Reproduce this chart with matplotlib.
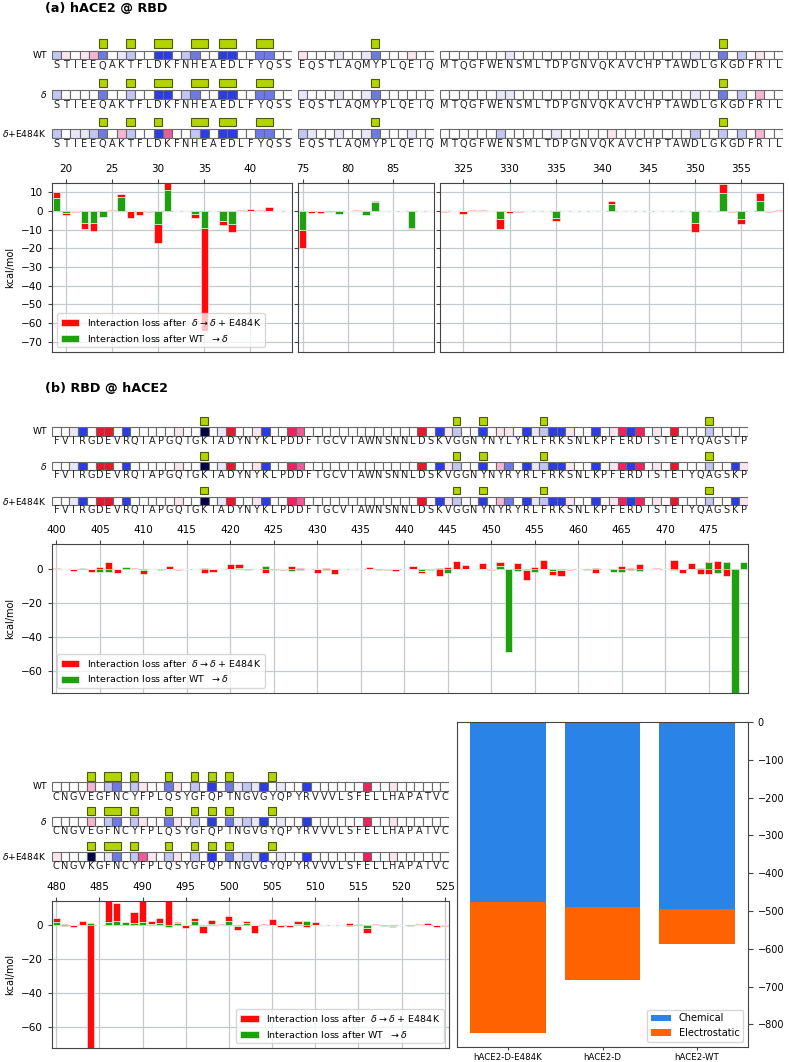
import matplotlib
matplotlib.use("Agg")
import matplotlib.pyplot as plt
import matplotlib.transforms as mtransforms
from matplotlib.colors import LinearSegmentedColormap, Normalize
import numpy as np

# ---------------- data ----------------
row_names = ["WT", r"$\delta$", r"$\delta$+E484K"]

# (a) hACE2 @ RBD : three segments of hACE2
a1_start = 19
a1_seq = ["STIEEQAKTFLDKFNHEAEDLFYQSS"] * 3
a1_codes = ["bo.opc.ab..dd.bc..dd..cc..",
            "b....c..b..dd.bc..dd..cc..",
            "b.aabc.pb..dq..bd.dd..cc.."]
a1_marks = [[24, 27, 30, 31, 34, 35, 37, 38, 41, 42],
            [24, 27, 30, 31, 34, 35, 37, 38, 41, 42],
            [24, 27, 30, 34, 35, 37, 38, 41, 42]]
a1_green = [7, -1, 0, -6.5, -6.5, -3, 0, 7.5, 0, 0, 0, -7, 11, 0, 0, -1.5, -9, 0, -5.5, -7, 0, 0, 0, 0, 0, 0]
a1_red = [3, -1, -0.5, -3, -4, 0, 0.3, 1.5, -4, -2, -0.7, -10, 4, -0.2, 0, -2.5, -55, 0, -2, -4.5, 0.3, 1, 0.5, 2, 0.2, 0]

a2_start = 75
a2_seq = ["EQSTLAQMYPLQEIQ"] * 3
a2_codes = ["o...a..ac...o..",
            "a...a..ac......",
            "ba..a..ac...a.."]
a2_marks = [[83], [83], [83]]
a2_green = [-10, 0, 0, -0.5, -1.5, 0, 0, -2, 5, 0, 0, 0, -9, 0, 0]
a2_red = [-10, -1, -1, 0, 0, 0, 0.3, 0, 0.5, 0, 0.2, 0, -0.5, 0.2, 0]

a3_start = 323
a3_seq = ["MTQGFWENSMLTDPGNVQKAVCHPTAWDLGKGDFRIL"] * 3
a3_codes = [".......a" + "." * 19 + "a..c.b.o..",
            "......aa" + "." * 19 + "a..c.b.p..",
            "......b.....a.....o........b..b.b.p.."]
a3_marks = [[353], [353], [353]]
a3_green = [0, 0, 0, 0, 0, 0, -4.5, 0, 0, 0, 0, 0, -4, 0, 0, 0, 0, 0, 3.5, 0,
            0, 0, 0, 0, 0, 0, 0, -6.5, 0, 0, 9.5, 0, -4.5, 0, 5.5, 0, 0]
a3_red = [-0.3, 0, -1.5, 0.5, 0.5, 0, -5, -1, -0.5, 0, 0, 0, -1.5, 0, 0, 0, 0, 0.1, 2, 0,
          0, 0, 0, 0.1, 0.1, 0, 0, -5, 0, 0.2, 5, -0.5, -2.5, 0, 4, -0.3, 0.3]

# (b) RBD @ hACE2 : residues 400-479
b_start = 400
b_seq = ["FVIRGDEVRQIAPGQTGKIADYNYKLPDDFTGCVIAWNSNNLDSKVGGNYNYLYRLFRKSNLKPFERDISTEIYQAGSTP",
         "FVIRGDEVRQIAPGQTGKIADYNYKLPDDFTGCVIAWNSNNLDSKVGGNYNYRYRLFRKSNLKPFERDISTEIYQAGSKP",
         "FVIRGDEVRQIAPGQTGKIADYNYKLPDDFTGCVIAWNSNNLDSKVGGNYNYRYRLFRKSNLKPFERDISTEIYQAGSKP"]
b_codes = ["..ad.rr.d." "....o..e.a" "r..od..sq." ".........." "..r.dob..d" ".oo.dabddo" "..d.osds.o" ".r...b....",
           "..ad.rr.d." "....o..e.a" "r..od..sq." ".........." "..r.dob..d" ".pc.dabddo" "..d.osds.o" ".r...b..do",
           "..ad.rr.d." "....o..e.a" "r..od..sq." ".........." "..r.dob..d" ".pc.dabddo" "..d.osds.o" ".r...b..do"]
b_marks = [[417, 446, 449, 456, 475]] * 3
b_green = [0.5, 0, 0, 0.8, 0, -1.5, -1.5, 0, 1.5, 0,
           -0.5, 0, -0.3, 0, 0, 0, 0.3, 1, 0, 0,
           0, 1, -0.3, 0, 2, -0.3, 0, -1, -0.5, 0,
           0.5, -0.5, 0, 0, 0, 0, 0.3, -0.3, 0, 0,
           0, 0, -1, -0.2, 1, -2, 0.5, 0.5, 0, 0.5,
           0, 2, -49, -1, -0.5, -1.5, 0.5, -1, -0.5, 0,
           0, -0.3, 1, 0.5, -1.5, -1.5, -0.5, -1, 0.5, 0,
           0.5, -0.5, 0, 0.5, 1, 4.5, -2, 4.5, -80, 4.5]
b_red = [0.3, 0, -1.2, 0, -1.5, 3, 6, -2, 0, 1,
         -2.5, 0.5, 0, 2, -0.3, 0, 0, -3, -1.5, 0,
         3, 2, 0, 0.5, -4, 0, -0.5, 3, 1.5, 0,
         -2.5, 1.5, -2.5, 0.5, 0.5, 0.5, 1, 0, -0.5, -0.8,
         0, 2, -1, 0, -5, 3.5, 4.5, 2, 0, 3.5,
         -0.5, 2.5, 0, 5, -6, 3, 5, -2.5, -3.5, -0.3,
         0, 0, -3, 0, 0, 3.5, 1.5, 4, 0, 1,
         0, 6, -2, 3, -4, -7, 7, -8.5, 0, 0]

# (b, continued) residues 480-525
c_start = 480
c_seq = ["CNGVEGFNCYFPLQSYGFQPTNGVGYQPYRVVVLSFELLHAPATVC",
         "CNGVEGFNCYFPLQSYGFQPTNGVGYQPYRVVVLSFELLHAPATVC",
         "CNGVKGFNCYFPLQSYGFQPTNGVGYQPYRVVVLSFELLHAPATVC"]
c_codes = ["....p.bc.b" "o..co.b.d." "cabad.a..d" "......s..o" "......",
           "....p.bc.b" "o..co.b.d." "cabad.a..d" "......s..o" "......",
           "o...e.ac.b" "qo.bo.b.d." "cabad.a..d" "......s..o" "......"]
c_marks = [[484, 486, 487, 489, 493, 496, 498, 500, 505]] * 3
c_green = [1.5, 0.3, 0, 0, 1, 0, 1.5, 2.5, 1.5, 1,
           1.5, 0.5, 1, -1.5, 1, 0, 2, -0.5, 0.5, 0,
           2, -1, 1, -0.3, 0, 0, -0.3, 0, 0.5, 2.5,
           0, 0, 0, 0, -1, 0.2, -2, 0, -0.5, -1,
           -0.3, -1, 0, 0, 0, -0.2]
c_red = [2.5, -1, -1.5, 2, -80, 0, 15, 10.5, 0, 6.5,
         15, 1.5, 3, 18, 0.5, -2, 2, -4.5, 2.5, 0.5,
         3, -2, 1, -4.5, 0.2, 3.5, -1, -1.5, 2, -4,
         1.5, 0, 0, -0.3, 2, 0.3, -3, 0.5, 0, -0.5,
         0, 0, 0.5, 1, -1.5, -0.8]

# total interaction energies
complexes = ["hACE2-D-E484K", "hACE2-D", "hACE2-WT"]
chemical = [-475, -489, -496]
electrostatic = [-348, -195, -92]

# ---------------- styling ----------------
code_val = {'e': -1.0, 'd': -0.8, 'c': -0.55, 'b': -0.3, 'a': -0.12, '.': 0.0,
            'o': 0.12, 'p': 0.35, 'q': 0.6, 's': 0.8, 'r': 1.0}
cmap = LinearSegmentedColormap.from_list("res", [
    (0.0, "#00004a"), (0.1, "#2b3de8"), (0.225, "#6f7ae8"), (0.35, "#c4c6f2"),
    (0.44, "#e8e8f8"), (0.5, "#ffffff"), (0.56, "#fbe6ef"), (0.675, "#f6b6d2"),
    (0.8, "#f05a98"), (0.9, "#ee2260"), (1.0, "#e8182c")])
norm = Normalize(-1, 1)

RED = "#ff0a0a"
GREEN = "#1ea010"
LIME = "#b4d400"
GRID = "#c4cacd"

W, H = 789, 1062
fig = plt.figure(figsize=(W / 100, H / 100), dpi=100)


def px_axes(x0, y0, x1, y1):
    return fig.add_axes([x0 / W, 1 - y1 / H, (x1 - x0) / W, (y1 - y0) / H])


def runs(marks):
    out = []
    for m in sorted(marks):
        if out and m == out[-1][1] + 1:
            out[-1][1] = m
        else:
            out.append([m, m])
    return out


def draw_seq(box, start, seqs, codes, marks, row0, gap, cell_h, letter_dy, mark_dy, labels=True):
    x0, y0, x1, y1 = box
    ax = px_axes(x0, y0, x1, y1)
    n = len(seqs[0])
    res = np.arange(start, start + n)
    for i in range(3):
        yc = row0 + i * gap
        vals = [code_val[c] for c in codes[i]]
        ax.bar(res, cell_h, bottom=yc - cell_h / 2, width=1, color=cmap(norm(vals)),
               edgecolor="#6a6a6a", linewidth=0.8)
        for r, ch in zip(res, seqs[i]):
            ax.text(r, yc + letter_dy, ch, ha="center", va="center", fontsize=7, color="#222222")
        for a, b in runs(marks[i]):
            ax.bar((a + b) / 2, cell_h - 0.5, bottom=yc + mark_dy - (cell_h - 0.5) / 2,
                   width=b - a + 0.9, color=LIME, edgecolor="#4a5a10", linewidth=0.8)
        if labels:
            tr = mtransforms.blended_transform_factory(ax.transAxes, ax.transData)
            ax.text(-5 / (x1 - x0), yc, row_names[i], transform=tr, ha="right", va="center",
                    fontsize=6.6)
    ax.set_xlim(start - 0.5, start + n - 0.5)
    ax.set_ylim(y1 - y0, 0)
    ax.axis("off")


def draw_bars(box, start, green, red, ylim, yticks, xticks, show_y=True, legend=None):
    ax = px_axes(*box)
    res = np.arange(start, start + len(green))
    ax.bar(res, red, bottom=green, width=0.82, color=RED, edgecolor="white", linewidth=0.4,
           zorder=2, label=r"Interaction loss after  $\delta\rightarrow\delta$ + E484K")
    ax.bar(res, green, width=0.82, color=GREEN, edgecolor="white", linewidth=0.4,
           zorder=3, label=r"Interaction loss after WT  $\rightarrow\delta$")
    ax.set_xlim(start - 0.5, start + len(green) - 0.5)
    ax.set_ylim(*ylim)
    ax.set_yticks(yticks)
    ax.set_xticks(xticks)
    ax.xaxis.tick_top()
    ax.tick_params(labelsize=7.5, length=3, color="#444444")
    ax.grid(True, color=GRID, linewidth=0.9)
    ax.set_axisbelow(True)
    for s in ax.spines.values():
        s.set_color("#444444")
    if show_y:
        ax.set_ylabel("kcal/mol", fontsize=7)
    else:
        ax.tick_params(labelleft=False)
    if legend:
        ax.legend(loc=legend, fontsize=6.8, framealpha=0.75, handlelength=2.0)
    return ax


# ---------------- panel (a) ----------------
fig.text(45 / W, 1 - 8 / H, "(a) hACE2 @ RBD", fontsize=9.2, fontweight="bold", va="center")
seq_args = dict(row0=20, gap=39.2, cell_h=8.7, letter_dy=10.5, mark_dy=-11.5)
draw_seq((52, 35, 292, 150), a1_start, a1_seq, a1_codes, a1_marks, **seq_args)
draw_seq((298, 35, 434, 150), a2_start, a2_seq, a2_codes, a2_marks, labels=False, **seq_args)
draw_seq((440, 35, 783, 150), a3_start, a3_seq, a3_codes, a3_marks, labels=False, **seq_args)

a_yl = (-75.5, 15)
a_yt = list(range(-70, 11, 10))
draw_bars((52, 183, 292, 352), a1_start, a1_green, a1_red, a_yl, a_yt, [20, 25, 30, 35, 40],
          legend="lower left")
draw_bars((298, 183, 434, 352), a2_start, a2_green, a2_red, a_yl, a_yt, [75, 80, 85], show_y=False)
draw_bars((440, 183, 783, 352), a3_start, a3_green, a3_red, a_yl, a_yt,
          list(range(325, 356, 5)), show_y=False)

# ---------------- panel (b) ----------------
fig.text(45 / W, 1 - 388 / H, "(b) RBD @ hACE2", fontsize=9.2, fontweight="bold", va="center")
draw_seq((52, 410, 748, 515), b_start, b_seq, b_codes, b_marks,
         row0=21.5, gap=34.75, cell_h=8.4, letter_dy=9.2, mark_dy=-10.5)
draw_bars((52, 544, 748, 693), b_start, b_green, b_red, (-73, 15), [-60, -40, -20, 0],
          list(range(400, 476, 5)), legend="lower left")

draw_seq((52, 765, 449, 870), c_start, c_seq, c_codes, c_marks,
         row0=21.7, gap=34.8, cell_h=8.7, letter_dy=10, mark_dy=-10.2)
draw_bars((52, 901, 449, 1048), c_start, c_green, c_red, (-72.5, 14), [-60, -40, -20, 0],
          list(range(480, 526, 5)), legend="lower right")

# total energies
ax = px_axes(457, 722, 748, 1047)
x = np.arange(len(complexes))
ax.bar(x, chemical, width=0.8, color="#2a84e8", label="Chemical")
ax.bar(x, electrostatic, bottom=chemical, width=0.8, color="#ff6200", label="Electrostatic")
ax.set_ylim(-860, 0)
ax.set_xticks(x, complexes)
ax.yaxis.tick_right()
ax.yaxis.set_label_position("right")
ax.set_ylabel("kcal/mol", fontsize=7)
ax.tick_params(labelsize=7, color="#444444")
ax.tick_params(axis="x", labelsize=6.2, length=2.5, pad=1.5)
for s in ax.spines.values():
    s.set_color("#444444")
ax.legend(loc="lower right", fontsize=7)

fig.savefig("out.png", dpi=100)
